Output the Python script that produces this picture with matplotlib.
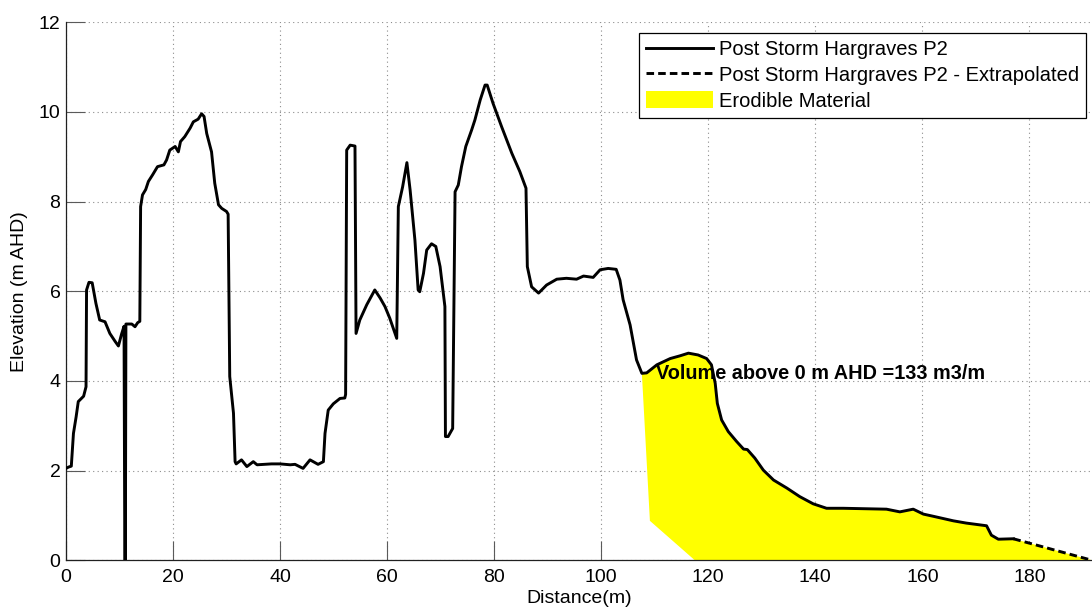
import matplotlib
matplotlib.use("Agg")
import matplotlib.pyplot as plt
from matplotlib.lines import Line2D
from matplotlib.patches import Patch
import numpy as np

plt.rcParams['font.family'] = ['Liberation Sans', 'DejaVu Sans']

# surveyed profile (distance m, elevation m AHD)
dist = [0.0, 0.5, 1.0, 1.4, 1.9, 2.3, 2.8, 3.3, 3.75, 3.85, 4.3, 4.9, 5.6, 6.3, 7.3,
        8.2, 9.2, 9.8, 10.4, 10.85, 11.0, 11.1, 11.2, 12.3, 12.9, 13.4, 13.8, 13.95,
        14.3, 14.9, 15.4, 16.2, 17.1, 18.3, 18.8, 19.4, 20.4, 21.0, 21.4, 22.2, 23.2,
        23.8, 24.7, 25.35, 25.8, 26.3, 27.2, 27.8, 28.5, 29.1, 30.0, 30.3, 30.6, 31.3,
        31.6, 31.8, 32.8, 33.8, 35.0, 35.7, 38.4, 40.0, 41.9, 42.8, 44.3, 45.6, 47.1,
        48.1, 48.4, 49.0, 49.95, 51.2, 52.1, 52.25, 52.45, 53.1, 54.0, 54.2, 54.9,
        56.2, 57.7, 58.7, 59.6, 60.5, 61.8, 62.1, 62.9, 63.7, 64.3, 65.2, 65.8, 66.1,
        66.8, 67.4, 68.3, 69.1, 69.9, 70.8, 70.9, 71.4, 72.25, 72.5, 72.7, 73.3, 73.9,
        74.7, 75.8, 76.4, 77.4, 78.3, 78.7, 79.8, 81.4, 83.3, 84.8, 85.95, 86.2, 87.0,
        88.3, 89.8, 91.7, 93.5, 95.4, 96.7, 98.5, 99.8, 101.3, 102.8, 103.5, 104.1,
        105.4, 106.6, 107.6, 108.5, 110.4, 112.9, 114.7, 116.3, 118.1, 119.7, 120.6,
        121.3, 121.7, 122.5, 123.75, 125.3, 126.6, 127.3, 128.7, 130.3, 132.2, 134.7,
        137.1, 139.6, 142.1, 145.2, 149.6, 153.3, 155.8, 158.3, 160.2, 162.1, 165.8,
        168.2, 172.0, 172.9, 174.2, 177.0]
elev = [2.05, 2.08, 2.10, 2.83, 3.2, 3.54, 3.6, 3.66, 3.87, 6.03, 6.2, 6.19, 5.73,
        5.36, 5.32, 5.06, 4.88, 4.78, 5.05, 5.22, 0.0, 0.0, 5.27, 5.27, 5.21, 5.3,
        5.33, 7.89, 8.15, 8.27, 8.45, 8.6, 8.78, 8.82, 8.93, 9.15, 9.23, 9.11, 9.34,
        9.45, 9.64, 9.78, 9.84, 9.96, 9.9, 9.52, 9.11, 8.41, 7.93, 7.85, 7.78, 7.72,
        4.1, 3.28, 2.2, 2.15, 2.24, 2.09, 2.2, 2.13, 2.15, 2.15, 2.13, 2.14, 2.05,
        2.24, 2.14, 2.2, 2.83, 3.35, 3.49, 3.61, 3.62, 3.7, 9.15, 9.26, 9.24, 5.06,
        5.36, 5.7, 6.03, 5.85, 5.66, 5.4, 4.95, 7.89, 8.33, 8.87, 8.26, 7.14, 6.03,
        5.99, 6.4, 6.92, 7.06, 7.0, 6.55, 5.66, 2.76, 2.76, 2.94, 5.96, 8.22, 8.37,
        8.78, 9.23, 9.6, 9.82, 10.27, 10.6, 10.6, 10.19, 9.67, 9.08, 8.67, 8.3, 6.55,
        6.1, 5.96, 6.14, 6.27, 6.29, 6.27, 6.34, 6.31, 6.48, 6.51, 6.49, 6.25, 5.81,
        5.25, 4.47, 4.17, 4.18, 4.36, 4.5, 4.56, 4.62, 4.58, 4.5, 4.36, 3.95, 3.5,
        3.13, 2.87, 2.65, 2.48, 2.47, 2.28, 2.01, 1.79, 1.61, 1.42, 1.26, 1.16, 1.16,
        1.15, 1.14, 1.08, 1.14, 1.03, 0.98, 0.88, 0.83, 0.77, 0.56, 0.47, 0.48]

# extrapolated seaward end
ext_dist = [177.0, 191.7]
ext_elev = [0.48, 0.0]

# landward boundary of erodible material
toe_dist = [117.5, 109.1]
toe_elev = [0.0, 0.88]
erode_start = 107.6
volume = 133

dist = np.array(dist)
elev = np.array(elev)
sel = dist >= erode_start
poly_x = np.concatenate([dist[sel], ext_dist[1:], toe_dist])
poly_y = np.concatenate([elev[sel], ext_elev[1:], toe_elev])

LW = 2.1
DASH = (0, (2.6, 1.4))

fig = plt.figure(figsize=(10.92, 6.13), dpi=100)
ax = fig.add_axes([0.0604, 0.086, 0.9396, 0.8776])

ax.fill(poly_x, poly_y, color='#ffff00', lw=0, zorder=2)
ax.plot(dist, elev, color='black', lw=LW, zorder=3)
ax.plot(ext_dist, ext_elev, color='black', lw=LW, ls=DASH, zorder=3)

ax.text(110.2, 4.17, 'Volume above 0 m AHD =%d m3/m' % volume, fontsize=14.3,
        fontweight='bold', va='center', ha='left', zorder=4)

ax.set_xlim(0, 191.7)
ax.set_ylim(0, 12)
ax.set_xticks(np.arange(0, 181, 20))
ax.set_yticks(np.arange(0, 13, 2))
ax.set_axisbelow(True)
ax.grid(True, ls=(0, (1, 3)), color='#8c8c8c', lw=0.8)
ax.tick_params(direction='in', length=14, width=0.8, color='#5a5a5a',
               labelsize=14, pad=4)
ax.tick_params(axis='x', pad=6)
for s in ['top', 'right']:
    ax.spines[s].set_visible(False)
for s in ['left', 'bottom']:
    ax.spines[s].set_color('#202020')
    ax.spines[s].set_linewidth(0.9)

ax.set_xlabel('Distance(m)', fontsize=14, labelpad=3)
ax.set_ylabel('Elevation (m AHD)', fontsize=14, labelpad=8)

handles = [Line2D([], [], color='black', lw=LW),
           Line2D([], [], color='black', lw=LW, ls=DASH),
           Patch(facecolor='#ffff00', edgecolor='none')]
labels = ['Post Storm Hargraves P2',
          'Post Storm Hargraves P2 - Extrapolated',
          'Erodible Material']
leg = ax.legend(handles, labels, loc='upper right', bbox_to_anchor=(0.9942, 0.9807),
                borderaxespad=0, fontsize=14.5, fancybox=False, framealpha=1,
                edgecolor='black', handlelength=3.3, handleheight=0.95,
                handletextpad=0.3, labelspacing=0.3, borderpad=0.35)
leg.get_frame().set_linewidth(0.9)
leg.set_zorder(5)

fig.savefig('out.png', dpi=100)
